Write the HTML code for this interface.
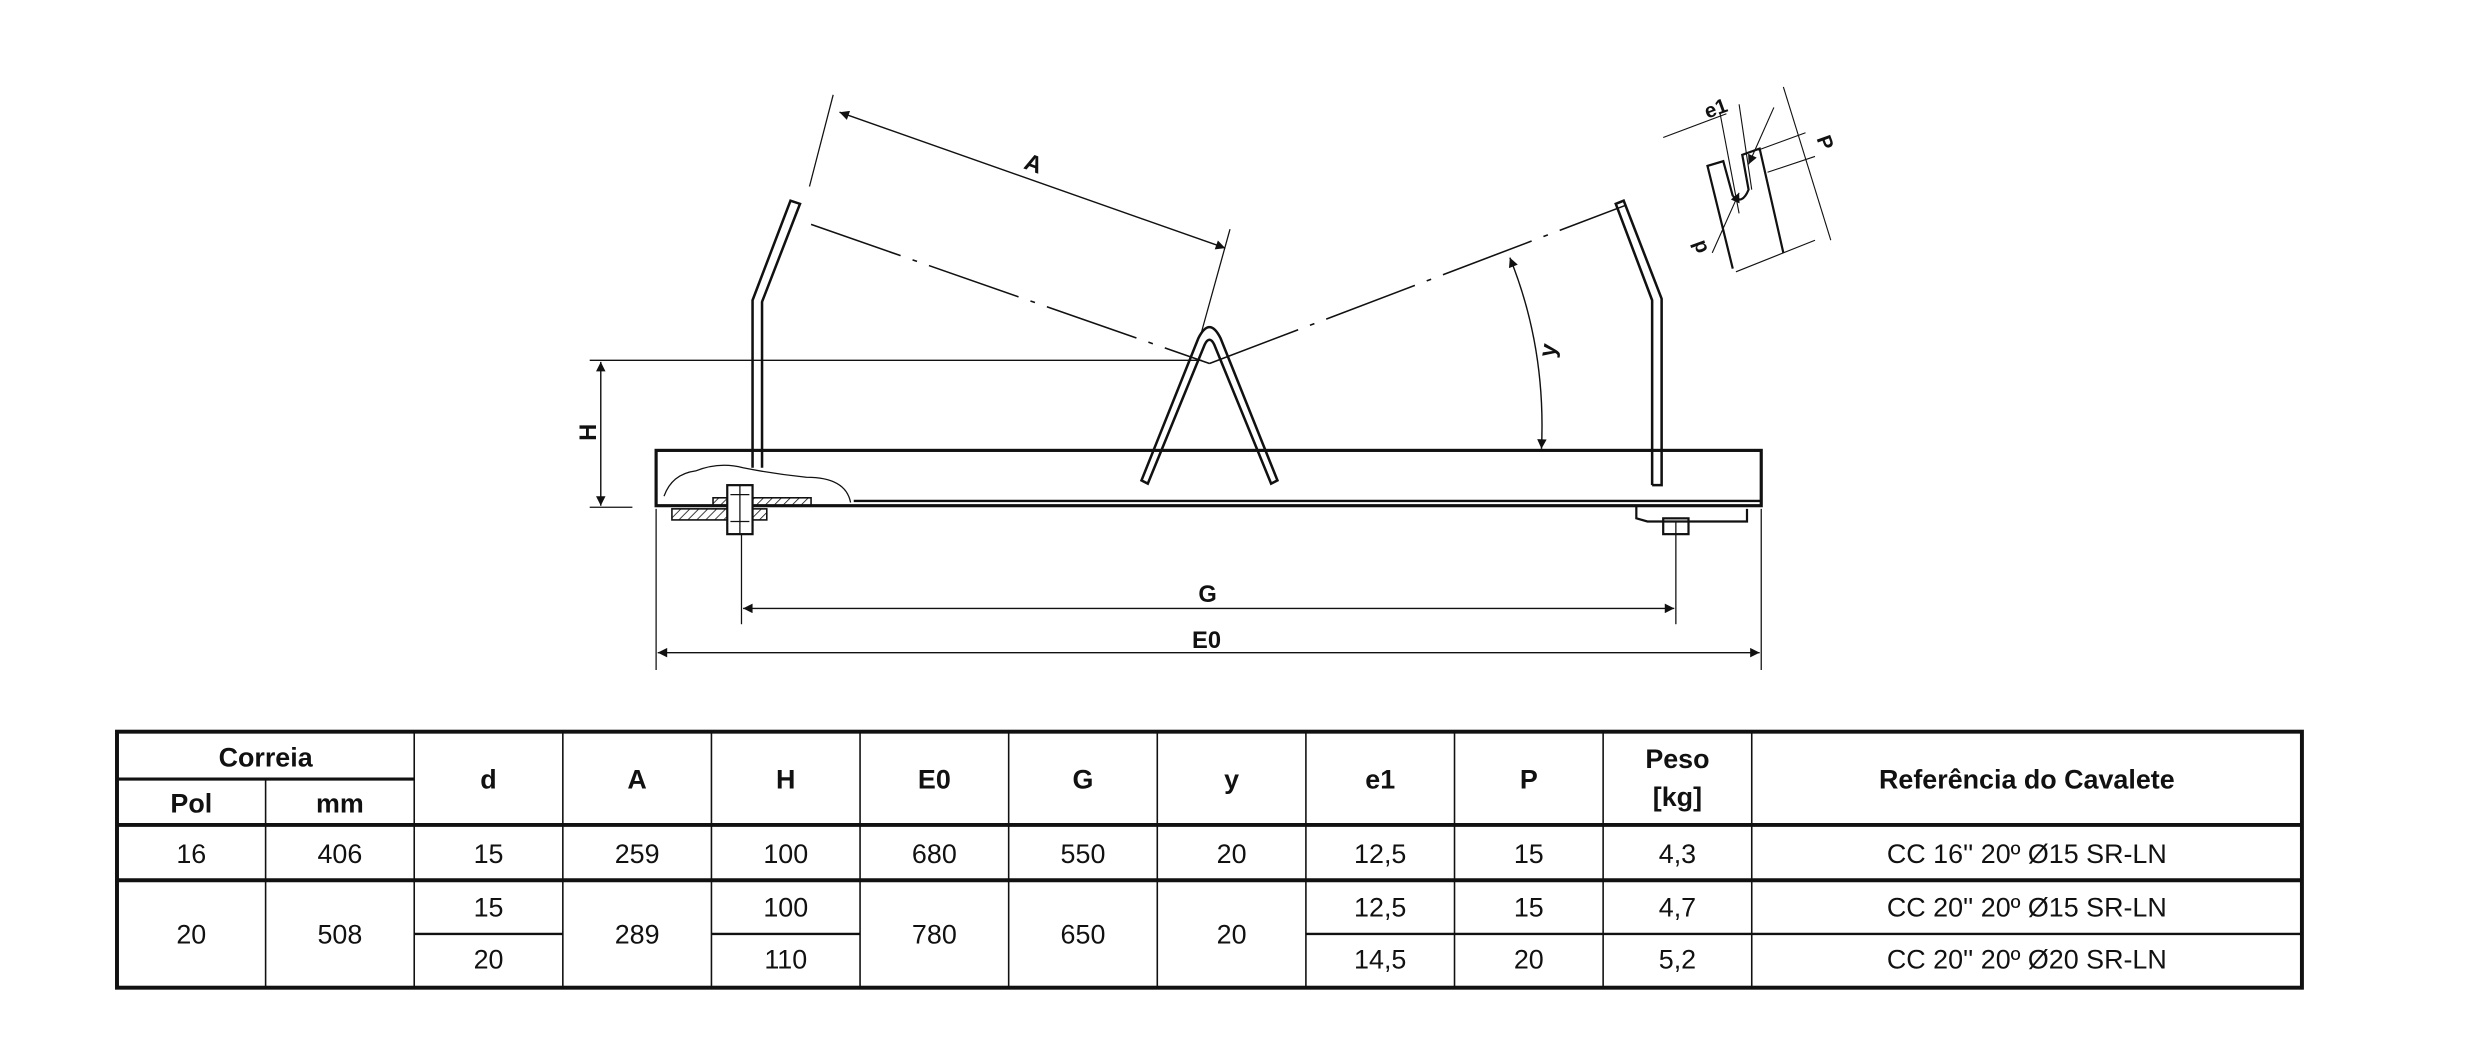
<!DOCTYPE html>
<html><head><meta charset="utf-8"><style>
html,body{margin:0;padding:0;background:#fff;}
svg{display:block}
text{font-family:"Liberation Sans Narrow","Liberation Sans",sans-serif;fill:#111}
.h{font-weight:bold;font-size:17px}
.d{font-size:17px}
</style></head><body>
<svg width="2479" height="1043" viewBox="0 0 1568 660" preserveAspectRatio="none" xmlns="http://www.w3.org/2000/svg">
<defs>
<marker id="ar" viewBox="0 0 10 10" refX="10" refY="5" markerWidth="13" markerHeight="6" orient="auto-start-reverse" markerUnits="userSpaceOnUse"><path d="M0,0 L10,5 L0,10 z" fill="#111"/></marker>
<pattern id="hat" width="4" height="4" patternUnits="userSpaceOnUse" patternTransform="rotate(45)"><line x1="0" y1="0" x2="0" y2="4" stroke="#111" stroke-width="1"/></pattern>
</defs>
<g fill="none" stroke="#111">
<rect x="415" y="285" width="699" height="35" stroke-width="2"/>
<line x1="540" y1="317" x2="1114" y2="317" stroke-width="1.5"/>
<polyline points="476,296 476,190 500,127 506,129 482,191 482,296" stroke-width="1.6"/>
<polyline points="1045,307 1045,190 1022,129 1027,127 1051,189 1051,307 1045,307" stroke-width="1.6"/>
<path d="M722,304 L758,214 Q765,200 772,214 L808,304 L804,306 L768,218 Q765,212 762,218 L726,306 Z" stroke-width="1.6"/>
<line x1="513" y1="142" x2="765" y2="230" stroke-width="1" stroke-dasharray="60,8,3,8"/>
<line x1="765" y1="230" x2="1028" y2="130" stroke-width="1" stroke-dasharray="60,8,3,8"/>
<line x1="527" y1="60" x2="512" y2="118" stroke-width="0.8"/>
<line x1="778" y1="145" x2="760" y2="210" stroke-width="0.8"/>
<line x1="531" y1="71" x2="775" y2="157" stroke-width="0.9" marker-start="url(#ar)" marker-end="url(#ar)"/>
<line x1="373" y1="228" x2="760" y2="228" stroke-width="0.8"/>
<line x1="373" y1="321" x2="400" y2="321" stroke-width="0.8"/>
<line x1="380" y1="229" x2="380" y2="320" stroke-width="0.9" marker-start="url(#ar)" marker-end="url(#ar)"/>
<path d="M955,163 Q978,220 975,284" stroke-width="0.9" marker-start="url(#ar)" marker-end="url(#ar)"/>
<line x1="469" y1="330" x2="469" y2="395" stroke-width="0.8"/>
<line x1="1060" y1="330" x2="1060" y2="395" stroke-width="0.8"/>
<line x1="415" y1="322" x2="415" y2="424" stroke-width="0.8"/>
<line x1="1114" y1="322" x2="1114" y2="424" stroke-width="0.8"/>
<line x1="470" y1="385" x2="1059" y2="385" stroke-width="0.9" marker-start="url(#ar)" marker-end="url(#ar)"/>
<line x1="416" y1="413" x2="1113" y2="413" stroke-width="0.9" marker-start="url(#ar)" marker-end="url(#ar)"/>
<path d="M420,314 Q425,300 440,298 Q455,292 470,296 Q490,300 510,302 Q535,302 538,318" stroke-width="0.8"/>
<rect x="451" y="315" width="62" height="5" fill="url(#hat)" stroke-width="1"/>
<rect x="425" y="322" width="60" height="7" fill="url(#hat)" stroke-width="1"/>
<rect x="460" y="307" width="16" height="31" fill="#fff" stroke-width="1.4"/>
<line x1="462" y1="313" x2="474" y2="313" stroke-width="0.8"/>
<line x1="462" y1="330" x2="474" y2="330" stroke-width="0.8"/>
<line x1="468" y1="307" x2="468" y2="338" stroke-width="0.8"/>
<path d="M1035,320 L1035,328 L1042,330 L1105,330 L1105,322" stroke-width="1.4"/>
<rect x="1052" y="328" width="16" height="10" stroke-width="1.4"/>
<g stroke-width="1.4">
<polyline points="1096,170 1080,105 1090,102 1096,124"/>
<path d="M1096,124 Q1102,130 1106,120 L1102,98 L1113,94 L1128,160"/>
</g>
<g stroke-width="0.7">
<line x1="1098" y1="172" x2="1148" y2="152"/>
<line x1="1052" y1="87" x2="1092" y2="72"/>
<line x1="1112" y1="95" x2="1142" y2="84"/>
<line x1="1118" y1="109" x2="1148" y2="99"/>
<line x1="1088" y1="72" x2="1100" y2="135"/>
<line x1="1100" y1="66" x2="1108" y2="120"/>
<line x1="1128" y1="55" x2="1158" y2="152"/>
<line x1="1083" y1="160" x2="1100" y2="122" marker-end="url(#ar)"/>
<line x1="1122" y1="68" x2="1106" y2="104" marker-end="url(#ar)"/>
</g>
</g>
<g class="h">
<text x="648" y="108" transform="rotate(20 652 104)" font-size="15">A</text>
<text x="368" y="280" transform="rotate(-90 372 275)" font-size="15">H</text>
<text x="976" y="226" transform="rotate(-80 980 222)" font-size="15">y</text>
<text x="758" y="381" font-size="15">G</text>
<text x="754" y="410" font-size="15">E0</text>
<text x="1078" y="72" transform="rotate(-20 1088 68)" font-size="13">e1</text>
<text x="1150" y="94" transform="rotate(70 1154 90)" font-size="13">P</text>
<text x="1068" y="162" transform="rotate(-110 1073 156)" font-size="13">d</text>
</g>
<g stroke="#111" fill="none">
<rect x="74" y="463" width="1382" height="162" stroke-width="2.5"/>
<line x1="74" y1="522" x2="1456" y2="522" stroke-width="2.5"/>
<line x1="74" y1="557" x2="1456" y2="557" stroke-width="2.5"/>
<line x1="74" y1="493" x2="262" y2="493" stroke-width="2"/>
<line x1="262" y1="591" x2="356" y2="591" stroke-width="1.5"/>
<line x1="450" y1="591" x2="544" y2="591" stroke-width="1.5"/>
<line x1="826" y1="591" x2="1456" y2="591" stroke-width="1.5"/>
<g stroke-width="1">
<line x1="168" y1="493" x2="168" y2="625"/>
<line x1="262" y1="463" x2="262" y2="625"/>
<line x1="356" y1="463" x2="356" y2="625"/>
<line x1="450" y1="463" x2="450" y2="625"/>
<line x1="544" y1="463" x2="544" y2="625"/>
<line x1="638" y1="463" x2="638" y2="625"/>
<line x1="732" y1="463" x2="732" y2="625"/>
<line x1="826" y1="463" x2="826" y2="625"/>
<line x1="920" y1="463" x2="920" y2="625"/>
<line x1="1014" y1="463" x2="1014" y2="625"/>
<line x1="1108" y1="463" x2="1108" y2="625"/>
</g>
</g>
<g class="h" text-anchor="middle">
<text x="168" y="485">Correia</text>
<text x="121" y="514">Pol</text><text x="215" y="514">mm</text>
<text x="309" y="499">d</text><text x="403" y="499">A</text><text x="497" y="499">H</text>
<text x="591" y="499">E0</text><text x="685" y="499">G</text><text x="779" y="499">y</text>
<text x="873" y="499">e1</text><text x="967" y="499">P</text>
<text x="1061" y="486">Peso</text><text x="1061" y="510">[kg]</text>
<text x="1282" y="499">Referência do Cavalete</text>
</g>
<g class="d" text-anchor="middle">
<text x="121" y="546">16</text><text x="215" y="546">406</text><text x="309" y="546">15</text>
<text x="403" y="546">259</text><text x="497" y="546">100</text><text x="591" y="546">680</text>
<text x="685" y="546">550</text><text x="779" y="546">20</text><text x="873" y="546">12,5</text>
<text x="967" y="546">15</text><text x="1061" y="546">4,3</text><text x="1282" y="546">CC 16'' 20º Ø15 SR-LN</text>
<text x="121" y="597">20</text><text x="215" y="597">508</text>
<text x="309" y="580">15</text><text x="309" y="613">20</text>
<text x="403" y="597">289</text>
<text x="497" y="580">100</text><text x="497" y="613">110</text>
<text x="591" y="597">780</text><text x="685" y="597">650</text><text x="779" y="597">20</text>
<text x="873" y="580">12,5</text><text x="873" y="613">14,5</text>
<text x="967" y="580">15</text><text x="967" y="613">20</text>
<text x="1061" y="580">4,7</text><text x="1061" y="613">5,2</text>
<text x="1282" y="580">CC 20'' 20º Ø15 SR-LN</text><text x="1282" y="613">CC 20'' 20º Ø20 SR-LN</text>
</g>
</svg>
</body></html>
